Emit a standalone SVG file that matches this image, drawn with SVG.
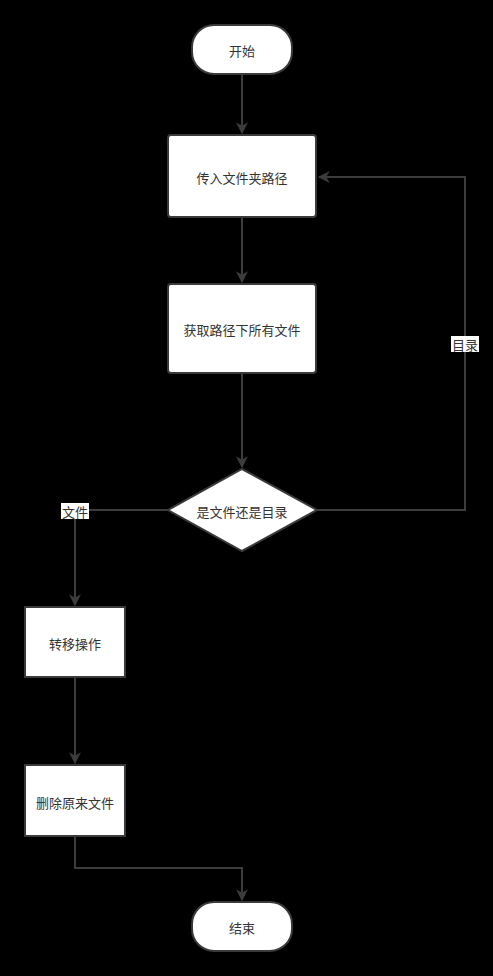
<svg xmlns="http://www.w3.org/2000/svg" width="493" height="976" viewBox="0 0 493 976">
<defs>
<marker id="arr" markerWidth="12" markerHeight="12" refX="9" refY="5" orient="auto" markerUnits="userSpaceOnUse" viewBox="0 0 10 10">
<path d="M0,0 L10,5 L0,10 L3,5 z" fill="#3c3c3c"/>
</marker>
<style>
.node{fill:#ffffff;stroke:#3a3a3a;stroke-width:2}
.t{font-family:"Noto Sans CJK SC","Noto Sans",sans-serif;font-size:13px;fill:#333333;text-anchor:middle;dominant-baseline:central}
.e{fill:none;stroke:#3c3c3c;stroke-width:2}
.lbl{fill:#ffffff}
</style>
</defs>
<rect width="493" height="976" fill="#000000"/>
<g id="connectors">
<path class="e" d="M242,74 L242,133" marker-end="url(#arr)"/>
<path class="e" d="M242,218 L242,282" marker-end="url(#arr)"/>
<path class="e" d="M242,373 L242,467" marker-end="url(#arr)"/>
<path class="e" d="M168,510 L75,510 L75,605" marker-end="url(#arr)"/>
<path class="e" d="M317,510 L465,510 L465,177 L319,177" marker-end="url(#arr)"/>
<path class="e" d="M75,677 L75,763" marker-end="url(#arr)"/>
<path class="e" d="M75,836 L75,868 L242,868 L242,900" marker-end="url(#arr)"/>
<g id="label-file">
<rect class="lbl" x="61" y="503" width="28" height="16"/>
<text class="t" x="75" y="511">文件</text>
</g>
<g id="label-dir">
<rect class="lbl" x="451" y="336" width="28" height="16"/>
<text class="t" x="465" y="344">目录</text>
</g>
</g>
<g id="start">
<rect class="node" x="192" y="25" width="100" height="49" rx="22" ry="22"/>
<text class="t" x="242" y="50">开始</text>
</g>
<g id="input-path">
<rect class="node" x="168" y="135" width="148" height="82" rx="3" ry="3"/>
<text class="t" x="242" y="177">传入文件夹路径</text>
</g>
<g id="get-files">
<rect class="node" x="168" y="284" width="148" height="89" rx="3" ry="3"/>
<text class="t" x="242" y="329">获取路径下所有文件</text>
</g>
<g id="decision">
<polygon class="node" points="242,469 317,510 242,551 168,510"/>
<text class="t" x="242" y="511">是文件还是目录</text>
</g>
<g id="move">
<rect class="node" x="25" y="607" width="100" height="70"/>
<text class="t" x="75" y="643">转移操作</text>
</g>
<g id="delete">
<rect class="node" x="25" y="765" width="100" height="71"/>
<text class="t" x="75" y="802">删除原来文件</text>
</g>
<g id="end">
<rect class="node" x="192" y="902" width="100" height="49" rx="22" ry="22"/>
<text class="t" x="242" y="927">结束</text>
</g>
</svg>
